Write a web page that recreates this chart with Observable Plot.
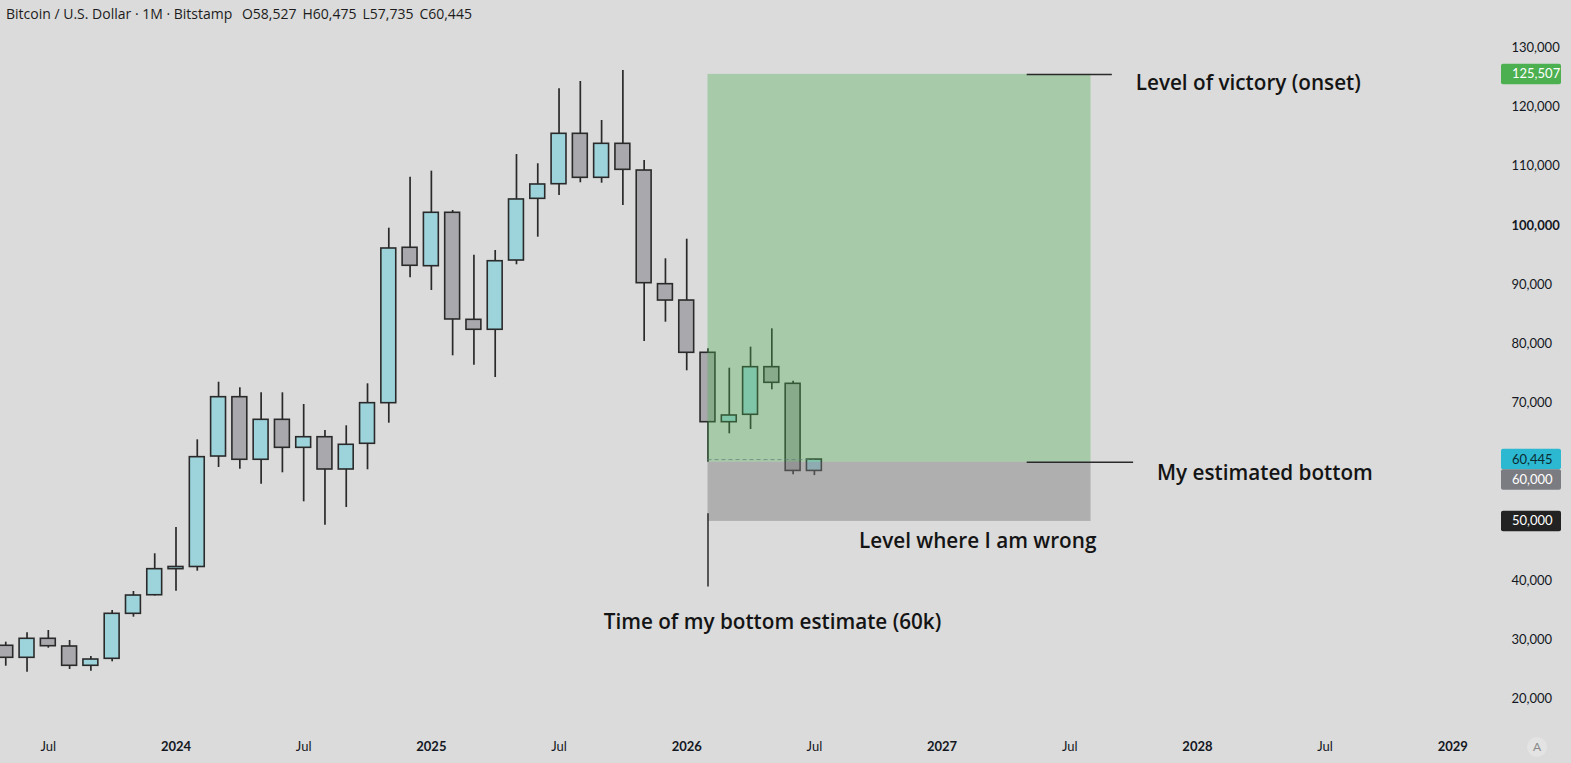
<!DOCTYPE html>
<html>
<head>
<meta charset="utf-8">
<script src="https://cdn.jsdelivr.net/npm/d3@7"></script>
<script src="https://cdn.jsdelivr.net/npm/@observablehq/plot@0.6"></script>
<style>
  html, body { margin: 0; padding: 0; background: #dbdbdb; overflow: hidden; }
  #chart { position: relative; width: 1571px; height: 763px; overflow: hidden; font-family: Lato, "Open Sans", sans-serif; }
  #chart svg { position: absolute; left: 0; top: 0; }
  #title { position: absolute; left: 6px; top: 4px; font-family: "Open Sans", sans-serif; font-size: 14px; color: #1c1c1c; white-space: nowrap; z-index: 2; }
  #title span { margin-left: 6px; }
  #autoscale { position: absolute; left: 1527px; top: 737px; width: 20px; height: 20px; border-radius: 50%;
               background: #e3e3e3; color: #8a8a8a; font-size: 12px; line-height: 20px; text-align: center; z-index: 2; }
</style>
</head>
<body>
<div id="chart"><div id="title"></div><div id="autoscale">A</div></div>
<script>
// BTC/USD monthly candles (Bitstamp)
const months = ["2023-05","2023-06","2023-07","2023-08","2023-09","2023-10","2023-11","2023-12",
  "2024-01","2024-02","2024-03","2024-04","2024-05","2024-06","2024-07","2024-08","2024-09","2024-10","2024-11","2024-12",
  "2025-01","2025-02","2025-03","2025-04","2025-05","2025-06","2025-07","2025-08","2025-09","2025-10","2025-11","2025-12",
  "2026-01","2026-02","2026-03","2026-04","2026-05","2026-06","2026-07"];
const open  = [28990, 26960, 30170, 28870, 25610, 26790, 34390, 37530,
  41930, 42300, 60960, 70980, 60410, 67160, 62430, 64220, 58770, 63110, 69970, 96220,
  93110, 102130, 84050, 82370, 94070, 104490, 106960, 115470, 108040, 113780, 109270, 90070,
  87310, 78480, 66760, 68010, 76050, 73240, 58527];
const high  = [29600, 31180, 31570, 29880, 27180, 34950, 38160, 44530,
  48970, 63780, 73510, 72570, 71720, 71720, 69750, 65360, 66150, 73240, 99530, 108140,
  109160, 102520, 94970, 95760, 111970, 110410, 123070, 124310, 117720, 126170, 110960, 94360,
  97670, 79160, 75880, 79430, 82530, 73680, 60475];
const low   = [25540, 24530, 28580, 24980, 24700, 26280, 33820, 37400,
  38210, 41590, 59100, 58820, 56280, 58210, 53310, 49360, 52350, 58720, 66590, 91150,
  89000, 77970, 76390, 74310, 93350, 98010, 105050, 107200, 107130, 103360, 80390, 83650,
  75440, 60000, 64800, 65520, 72230, 57870, 57735];
const close = [26960, 30170, 28920, 25610, 26670, 34390, 37480, 41930,
  42300, 60850, 70980, 60410, 67160, 62430, 64220, 58770, 62940, 69970, 96100, 93180,
  102130, 84110, 82370, 93950, 104380, 106910, 115470, 108040, 113780, 109390, 90240, 87310,
  78480, 66760, 67890, 76050, 73410, 58527, 60445];

// Price axis ticks (60,000 and 50,000 sit under their price tags)
const yTicks = [20000, 30000, 40000, 70000, 80000, 90000, 110000, 120000, 130000];
const yTicksBold = [100000];
// Time axis ticks
const xTickMonths = ["2023-07","2024-07","2025-07","2026-07","2027-07","2028-07"];
const xTickLabels = ["Jul","Jul","Jul","Jul","Jul","Jul"];
const yearMonths = ["2024-01","2025-01","2026-01","2027-01","2028-01","2029-01"];
const yearLabels = ["2024","2025","2026","2027","2028","2029"];

// Trade plan drawing
const planStart = "2026-02", planEnd = "2027-08";
const victoryLevel = 125507, bottomLevel = 60000, wrongLevel = 50000;
const victoryLineFrom = "2027-05", victoryLineTo = "2027-09";
const bottomLineFrom = "2027-05", bottomLineTo = "2027-10";
const estimateMonth = "2026-02", estimateLineTop = 51300, estimateLineBottom = 38900;

// Annotation texts with their anchor (month offset, price)
const noteTexts  = ["Level of victory (onset)", "My estimated bottom", "Level where I am wrong", "Time of my bottom estimate (60k)"];
const noteMonths = [45.1, 46.1, 32.1, 20.1];
const notePrices = [123950, 58100, 46600, 32900];

// Price tags on the right axis
const tagValues = [125507, 60445, 60000, 50000];
const tagFill   = ["#4caf50", "#2bb8d0", "#7b7c82", "#222222"];
const tagText   = ["#ffffff", "#0d2a30", "#ffffff", "#ffffff"];

const fmt = d3.format(",");
const monthIndex = s => { const [y, m] = s.split("-").map(Number); return (y - 2024) * 12 + (m - 1); };

const candles = months.map((s, i) => ({m: monthIndex(s), open: open[i], high: high[i], low: low[i], close: close[i]}));
const rising = candles.filter(d => d.close >= d.open);
const falling = candles.filter(d => d.close < d.open);
const last = candles[candles.length - 1];

document.getElementById("title").innerHTML =
  `Bitcoin / U.S. Dollar · 1M · Bitstamp <span>O${fmt(last.open)}</span><span>H${fmt(last.high)}</span><span>L${fmt(last.low)}</span><span>C${fmt(last.close)}</span>`;

const zone = {x1: monthIndex(planStart), x2: monthIndex(planEnd)};
const notes = noteTexts.map((t, i) => ({t, m: noteMonths[i], p: notePrices[i]}));
const tags = tagValues.map((v, i) => ({v, fill: tagFill[i], color: tagText[i]}));

const ink = "#2a2a2a";
const halfBody = 0.35;

// Right-axis price tags, stacked so they never overlap
function priceTags(index, scales, values, dims) {
  const g = d3.create("svg:g").attr("aria-label", "price tags").attr("text-anchor", "start");
  const x0 = dims.width - dims.marginRight - 10;
  const h = 20.5;
  const placed = tags.map(d => ({...d, y: scales.y(d.v)})).sort((a, b) => a.y - b.y);
  let prev = -Infinity;
  for (const d of placed) {
    if (d.y < prev + h) d.y = prev + h;
    prev = d.y;
    g.append("rect").attr("x", x0).attr("y", d.y - h / 2).attr("width", 60).attr("height", h)
      .attr("rx", 2).attr("fill", d.fill);
    g.append("text").attr("x", x0 + 11).attr("y", d.y).attr("dy", "0.35em").attr("text-anchor", "start")
      .attr("fill", d.color).attr("font-size", 13).text(fmt(d.v));
  }
  return g.node();
}

const chart = Plot.plot({
  width: 1571, height: 763,
  marginTop: 30, marginBottom: 28, marginLeft: 0, marginRight: 60,
  style: {background: "transparent", fontFamily: "Lato, 'Open Sans', sans-serif", fontSize: "13px", color: "#131722", overflow: "visible"},
  x: {type: "linear", domain: [0, 60], range: [175.5, 1452.3], axis: null},
  y: {type: "linear", domain: [20000, 130000], range: [698.5, 47.3], axis: null},
  marks: [
    // wicks and bodies
    Plot.ruleX(candles, {x: "m", y1: "low", y2: "high", stroke: ink, strokeWidth: 1.7}),
    Plot.rect(rising, {x1: d => d.m - halfBody, x2: d => d.m + halfBody, y1: "open", y2: "close",
      fill: "#9dd4dc", stroke: ink, strokeWidth: 1.6}),
    Plot.rect(falling, {x1: d => d.m - halfBody, x2: d => d.m + halfBody, y1: "open", y2: "close",
      fill: "#a9a9ad", stroke: ink, strokeWidth: 1.6}),
    // target zone and invalidation zone
    Plot.rect([zone], {x1: "x1", x2: "x2", y1: () => bottomLevel, y2: () => victoryLevel, fill: "#4caf50", fillOpacity: 0.36}),
    Plot.rect([zone], {x1: "x1", x2: "x2", y1: () => wrongLevel, y2: () => bottomLevel, fill: "#7a7a7a", fillOpacity: 0.45}),
    // last price line
    Plot.ruleY([last.close], {x1: () => zone.x1, x2: () => last.m, stroke: "#5f7f72", strokeDasharray: "4,3", strokeOpacity: 0.7}),
    // level lines
    Plot.ruleY([victoryLevel], {x1: () => monthIndex(victoryLineFrom), x2: () => monthIndex(victoryLineTo), stroke: ink, strokeWidth: 1.5}),
    Plot.ruleY([bottomLevel], {x1: () => monthIndex(bottomLineFrom), x2: () => monthIndex(bottomLineTo), stroke: ink, strokeWidth: 1.5}),
    Plot.ruleX([monthIndex(estimateMonth)], {y1: () => estimateLineTop, y2: () => estimateLineBottom, stroke: ink, strokeWidth: 1.5}),
    // annotations
    Plot.text(notes, {x: "m", y: "p", text: "t", textAnchor: "start", lineAnchor: "middle",
      fontFamily: "'Open Sans', sans-serif", fontSize: 20.7, fontWeight: 600, fill: "#141414"}),
    // price axis
    Plot.axisY(yTicks, {anchor: "right", tickSize: 0, tickPadding: 0, textAnchor: "start", tickFormat: fmt, fontSize: 13}),
    Plot.axisY(yTicksBold, {anchor: "right", tickSize: 0, tickPadding: 0, textAnchor: "start", tickFormat: fmt, fontSize: 13, fontWeight: 700}),
    // time axis
    Plot.axisX(xTickMonths.map(monthIndex), {anchor: "bottom", tickSize: 0, tickPadding: 6, fontSize: 13,
      tickFormat: v => xTickLabels[xTickMonths.map(monthIndex).indexOf(v)]}),
    Plot.axisX(yearMonths.map(monthIndex), {anchor: "bottom", tickSize: 0, tickPadding: 6, fontSize: 13, fontWeight: 700,
      tickFormat: v => yearLabels[yearMonths.map(monthIndex).indexOf(v)]}),
    priceTags
  ]
});

document.getElementById("chart").appendChild(chart);
</script>
</body>
</html>
